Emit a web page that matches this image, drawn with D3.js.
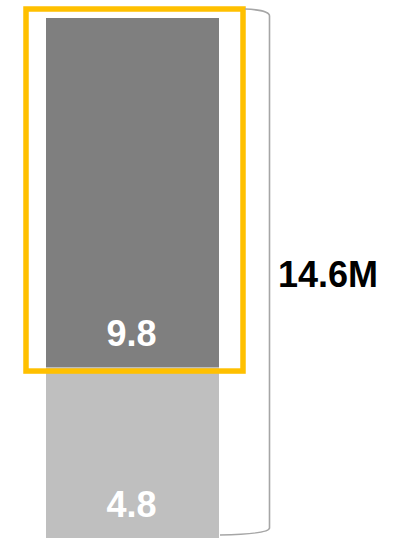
<!DOCTYPE html>
<html>
<head>
<meta charset="utf-8">
<script src="https://cdn.jsdelivr.net/npm/d3@7"></script>
<style>
html,body{margin:0;padding:0;background:#fff;}
svg{display:block;}
</style>
</head>
<body>
<svg id="chart" width="406" height="539"></svg>
<script>
const categories = ["Total"];
const segments = ["Lower", "Upper"];
const values = [4.8, 9.8];
const segmentLabels = ["4.8", "9.8"];
const totalLabel = "14.6M";

(function () {
const svg = d3.select("#chart");
const total = d3.sum(values);

const x = d3.scaleBand().domain(categories).range([46, 219]).padding(0);
const y = d3.scaleLinear().domain([0, total]).range([538, 18]);
const color = d3.scaleOrdinal().domain(segments).range(["#bfbfbf", "#7f7f7f"]);

const stackData = [Object.fromEntries(segments.map((s, i) => [s, values[i]]))];
const stacked = d3.stack().keys(segments)(stackData);

const g = svg.append("g");
stacked.forEach((layer, i) => {
  const d = layer[0];
  g.append("rect")
    .attr("x", x(categories[0]))
    .attr("width", x.bandwidth())
    .attr("y", y(d[1]))
    .attr("height", y(d[0]) - y(d[1]))
    .attr("fill", color(layer.key));
  g.append("text")
    .attr("x", x(categories[0]) + x.bandwidth() / 2 - 1)
    .attr("y", y(d[0]) - 21)
    .attr("text-anchor", "middle")
    .attr("font-family", "Liberation Sans, Arial, sans-serif")
    .attr("font-weight", "bold")
    .attr("font-size", 36)
    .attr("fill", "#ffffff")
    .text(segmentLabels[i]);
});

// highlight box around upper segment
const up = stacked[1][0];
const bx0 = x(categories[0]) - 20, bx1 = x(categories[0]) + x.bandwidth() + 24;
const by0 = y(up[1]) - 9, by1 = y(up[0]) + 4;
svg.append("rect")
  .attr("x", bx0).attr("y", by0)
  .attr("width", bx1 - bx0).attr("height", by1 - by0)
  .attr("fill", "none")
  .attr("stroke", "#ffc000")
  .attr("stroke-width", 5.5);

// bracket
const brTop = y(total) - 9, brBot = y(0) - 4;
const bxR = 269.5;
const path = d3.path();
path.moveTo(bx1 + 2, brTop);
path.quadraticCurveTo(bxR, brTop + 1, bxR, brTop + 7);
path.lineTo(bxR, brBot - 6);
path.quadraticCurveTo(bxR, brBot, x(categories[0]) + x.bandwidth() + 1, brBot + 1);
svg.append("path")
  .attr("d", path.toString())
  .attr("fill", "none")
  .attr("stroke", "#a6a6a6")
  .attr("stroke-width", 1.6);

svg.append("text")
  .attr("x", 278)
  .attr("y", 287)
  .attr("font-family", "Liberation Sans, Arial, sans-serif")
  .attr("font-weight", "bold")
  .attr("font-size", 36)
  .attr("fill", "#000")
  .text(totalLabel);
})();
</script>
</body>
</html>
